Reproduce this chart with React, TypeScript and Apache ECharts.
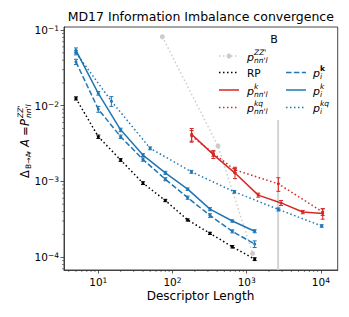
import React, { useEffect, useRef } from "react";
import * as echarts from "echarts";

// ---------- data ----------
const xPow = [5, 10, 20, 40, 80, 160, 320, 640, 1280];
const xKq = [5, 15, 50, 180, 680, 2670, 10240];
const xRedK = [181, 355, 695, 1430, 2900, 5690, 10570];
const xRedKq = [181, 355, 695, 2670, 10570];
const xZZ = [73, 410, 1200];

const rpVals = [0.0125, 0.0039, 0.00192, 0.00095, 0.00056, 0.00031, 0.000206, 0.000137, 0.000094];
const rpErr = [0.0006, 0.0002, 0.00008, 0.00004, 0.00002, 0.00001, 0.000007, 0.000005, 0.000004];
const blueK = [0.054, 0.0146, 0.0048, 0.00223, 0.0013, 0.00079, 0.00043, 0.0003, 0.00022];
const blueKErr = [0.004, 0.0008, 0.00025, 0.0001, 0.00006, 0.00003, 0.00002, 0.00001, 0.00001];
const blueKb = [0.038, 0.009, 0.0039, 0.00195, 0.00107, 0.00061, 0.000355, 0.000219, 0.000149];
const blueKbErr = [0.003, 0.0008, 0.0002, 0.0001, 0.00005, 0.00003, 0.00002, 0.00001, 0.000015];
const blueKq = [0.05, 0.0115, 0.00274, 0.00134, 0.00073, 0.000427, 0.000258];
const blueKqErr = [0.003, 0.0017, 0.00012, 0.00006, 0.00003, 0.00002, 0.00001];
const redK = [0.0042, 0.00226, 0.00129, 0.00066, 0.00052, 0.000394, 0.000377];
const redKErr = [0.0008, 0.00025, 0.0002, 0.00004, 0.00004, 0.00002, 0.00006];
const redKq = [0.004, 0.00235, 0.00142, 0.00093, 0.000394];
const redKqErr = [0.0007, 0.0002, 0.00012, 0.00019, 0.00004];
const zzVals = [0.0815, 0.00294, 0.000112];
const vLineX = 2650;

const X_MIN = 3.45, X_MAX = 16830, Y_MIN = 6.76e-5, Y_MAX = 0.1097;

const BLUE = "#1f77b4", RED = "#d62728", GRAY = "#cccccc", BLACK = "#000000";
const FONT = "DejaVu Sans";
const DOT = [1.5, 2.5];
const DASH = [5.5, 2.4];

const pairs = (xs: number[], ys: number[]) => xs.map((x, i) => [x, ys[i]]);
const triples = (xs: number[], ys: number[], es: number[]) => xs.map((x, i) => [x, ys[i], es[i]]);

function minorVals(lo: number, hi: number) {
  const out: number[] = [];
  for (let k = -6; k <= 6; k++) {
    for (let m = 2; m <= 9; m++) {
      const v = m * Math.pow(10, k);
      if (v > lo && v < hi) out.push(v);
    }
  }
  return out;
}

function lineSeries(name: string, xs: number[], ys: number[], color: string, type: any, symSize = 3) {
  return {
    name,
    type: "line",
    data: pairs(xs, ys),
    symbol: "circle",
    symbolSize: symSize,
    showSymbol: true,
    itemStyle: { color },
    lineStyle: { color, width: 1.5, type },
    z: 3,
  };
}

function errSeries(xs: number[], ys: number[], es: number[], color: string) {
  return {
    type: "custom",
    data: triples(xs, ys, es),
    encode: { x: 0, y: 1 },
    z: 4,
    renderItem: (params: any, api: any) => {
      const x = api.value(0), y = api.value(1), e = api.value(2);
      const lo = api.coord([x, y - e]);
      const hi = api.coord([x, y + e]);
      const c = 2;
      const st = { stroke: color, lineWidth: 1 };
      return {
        type: "group",
        children: [
          { type: "line", shape: { x1: lo[0], y1: lo[1], x2: hi[0], y2: hi[1] }, style: st },
          { type: "line", shape: { x1: lo[0] - c, y1: lo[1], x2: lo[0] + c, y2: lo[1] }, style: st },
          { type: "line", shape: { x1: hi[0] - c, y1: hi[1], x2: hi[0] + c, y2: hi[1] }, style: st },
        ],
      };
    },
  };
}

function txt(x: number, y: number, text: string, size: number, opts: any = {}) {
  return {
    type: "text",
    x,
    y,
    style: {
      text,
      fontSize: size,
      fontFamily: FONT,
      fontStyle: opts.italic ? "italic" : "normal",
      fontWeight: opts.bold ? "bold" : "normal",
      fill: "#000",
      align: opts.align || "left",
      verticalAlign: "middle",
      textAlign: opts.align || "left",
      textVerticalAlign: "middle",
    },
    z: 100,
  };
}

function handle(x1: number, x2: number, y: number, color: string, type: any) {
  return {
    type: "line",
    shape: { x1, y1: y, x2, y2: y },
    style: { stroke: color, lineWidth: 1.5, lineDash: type },
    z: 100,
  };
}

export default function App() {
  const ref = useRef<HTMLDivElement>(null);
  useEffect(() => {
    if (!ref.current) return;
    const chart = echarts.init(ref.current, null, { renderer: "svg" });

    const supLabel = (v: number) => {
      const e = Math.round(Math.log10(v));
      if (Math.abs(Math.log10(v) - e) > 1e-6) return "";
      const s = e < 0 ? "\u2212" + Math.abs(e) : String(e);
      return "{a|10}{b|" + s + "}";
    };
    const rich = {
      a: { fontSize: 10.5, fontFamily: FONT, color: "#000", lineHeight: 11, verticalAlign: "bottom" },
      b: { fontSize: 7.5, fontFamily: FONT, color: "#000", lineHeight: 7, verticalAlign: "top" },
    };

    const minorX = minorVals(X_MIN, X_MAX);
    const minorY = minorVals(Y_MIN, Y_MAX);

    const rows = [56, 72.5, 90, 107.5];
    const c1 = 219, c1e = 239, t1 = 247;
    const c2 = 286, c2e = 306, t2 = 313;

    const graphic: any[] = [
      txt(200.8, 16, "MD17 Information Imbalance convergence", 12.5, { align: "center" }),
      txt(200.5, 296, "Descriptor Length", 12, { align: "center" }),
      txt(274, 39, "B", 11, { align: "center" }),
      // legend col 1
      handle(c1, c1e, rows[0], GRAY, DOT),
      { type: "circle", shape: { cx: (c1 + c1e) / 2, cy: rows[0], r: 2.5 }, style: { fill: GRAY }, z: 100 },
      txt(t1, rows[0] + 1, "p", 11, { italic: true }),
      txt(t1 + 7, rows[0] - 4, "ZZ'", 7.5, { italic: true }),
      txt(t1 + 7, rows[0] + 4, "nn'l", 7.5, { italic: true }),
      handle(c1, c1e, rows[1], BLACK, DOT),
      txt(t1, rows[1], "RP", 10.5),
      handle(c1, c1e, rows[2], RED, 0),
      txt(t1, rows[2] + 1, "p", 11, { italic: true }),
      txt(t1 + 7, rows[2] - 4, "k", 7.5, { italic: true }),
      txt(t1 + 7, rows[2] + 4, "nn'l", 7.5, { italic: true }),
      handle(c1, c1e, rows[3], RED, DOT),
      txt(t1, rows[3] + 1, "p", 11, { italic: true }),
      txt(t1 + 7, rows[3] - 4, "kq", 7.5, { italic: true }),
      txt(t1 + 7, rows[3] + 4, "nn'l", 7.5, { italic: true }),
      // legend col 2
      handle(c2, c2e, rows[1], BLUE, DASH),
      txt(t2, rows[1] + 1, "p", 11, { italic: true }),
      txt(t2 + 7, rows[1] - 4, "k", 7.5, { bold: true }),
      txt(t2 + 7, rows[1] + 4, "i", 7.5, { italic: true }),
      handle(c2, c2e, rows[2], BLUE, 0),
      txt(t2, rows[2] + 1, "p", 11, { italic: true }),
      txt(t2 + 7, rows[2] - 4, "k", 7.5, { italic: true }),
      txt(t2 + 7, rows[2] + 4, "i", 7.5, { italic: true }),
      handle(c2, c2e, rows[3], BLUE, DOT),
      txt(t2, rows[3] + 1, "p", 11, { italic: true }),
      txt(t2 + 7, rows[3] - 4, "kq", 7.5, { italic: true }),
      txt(t2 + 7, rows[3] + 4, "i", 7.5, { italic: true }),
      // y axis label (rotated)
      {
        type: "group",
        x: 25,
        y: 178,
        rotation: Math.PI / 2,
        z: 100,
        children: [
          txt(0, 0, "\u0394", 11.5),
          txt(9, 3.5, "B\u2192A", 7.5),
          txt(24, 0, ",", 11.5),
          txt(31, 0, "A", 11.5, { italic: true }),
          txt(42, 0, "=", 11.5),
          txt(52, 0, "P", 11.5, { italic: true }),
          txt(60, -4.5, "ZZ'", 7.5, { italic: true }),
          txt(60, 3.5, "nn'l", 7.5, { italic: true }),
        ],
      },
    ];

    const option: any = {
      animation: false,
      backgroundColor: "#ffffff",
      grid: {
        left: 64,
        top: 27,
        right: 11.3,
        bottom: 47,
        show: true,
        borderColor: "#333",
        borderWidth: 0.9,
        backgroundColor: "transparent",
      },
      xAxis: {
        type: "log",
        logBase: 10,
        min: X_MIN,
        max: X_MAX,
        axisLine: { show: true, lineStyle: { color: "#333", width: 0.9 } },
        axisTick: { show: true, length: 3.5, lineStyle: { color: "#333", width: 0.8 } },
        splitLine: { show: false },
        axisLabel: { margin: 6, formatter: supLabel, rich, showMinLabel: false, showMaxLabel: false },
      },
      yAxis: {
        type: "log",
        logBase: 10,
        min: Y_MIN,
        max: Y_MAX,
        axisLine: { show: true, lineStyle: { color: "#333", width: 0.9 } },
        axisTick: { show: true, length: 3.5, lineStyle: { color: "#333", width: 0.8 } },
        splitLine: { show: false },
        axisLabel: { margin: 5, formatter: supLabel, rich, showMinLabel: false, showMaxLabel: false },
      },
      graphic,
      series: [
        {
          type: "line",
          data: [[vLineX, Y_MIN], [vLineX, 0.0065]],
          symbol: "none",
          lineStyle: { color: "#d3d3d3", width: 2 },
          z: 1,
        },
        lineSeries("zz", xZZ, zzVals, GRAY, DOT, 5),
        lineSeries("rp", xPow, rpVals, BLACK, DOT),
        lineSeries("redK", xRedK, redK, RED, "solid"),
        lineSeries("redKq", xRedKq, redKq, RED, DOT),
        lineSeries("blueKb", xPow, blueKb, BLUE, DASH),
        lineSeries("blueK", xPow, blueK, BLUE, "solid"),
        lineSeries("blueKq", xKq, blueKq, BLUE, DOT),
        errSeries(xPow, rpVals, rpErr, BLACK),
        errSeries(xRedK, redK, redKErr, RED),
        errSeries(xRedKq, redKq, redKqErr, RED),
        errSeries(xPow, blueKb, blueKbErr, BLUE),
        errSeries(xPow, blueK, blueKErr, BLUE),
        errSeries(xKq, blueKq, blueKqErr, BLUE),
        {
          type: "custom",
          data: minorX.map((v) => [v, Y_MIN]),
          encode: { x: 0, y: 1 },
          clip: false,
          silent: true,
          z: 5,
          renderItem: (params: any, api: any) => {
            const cs = params.coordSys;
            const p = api.coord([api.value(0), Y_MIN]);
            const yb = cs.y + cs.height;
            return { type: "line", shape: { x1: p[0], y1: yb, x2: p[0], y2: yb + 2 }, style: { stroke: "#333", lineWidth: 0.6 } };
          },
        },
        {
          type: "custom",
          data: minorY.map((v) => [X_MIN, v]),
          encode: { x: 0, y: 1 },
          clip: false,
          silent: true,
          z: 5,
          renderItem: (params: any, api: any) => {
            const cs = params.coordSys;
            const p = api.coord([X_MIN, api.value(1)]);
            return { type: "line", shape: { x1: cs.x, y1: p[1], x2: cs.x - 2, y2: p[1] }, style: { stroke: "#333", lineWidth: 0.6 } };
          },
        },
      ],
    };
    chart.setOption(option);
    return () => chart.dispose();
  }, []);
  return <div ref={ref} style={{ position: "fixed", left: 0, top: 0, width: 349, height: 317 }} />;
}
